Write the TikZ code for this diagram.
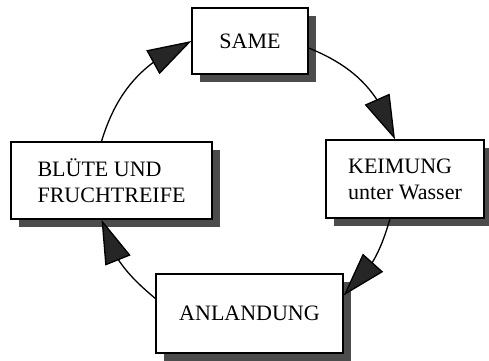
\documentclass[tikz,border=0pt]{standalone}
\usepackage{fontspec}
\setmainfont{Liberation Serif}
\usetikzlibrary{arrows.meta,bending,shadows}

\begin{document}
\begin{tikzpicture}[x=1pt,y=1pt]
	\tikzstyle{box} = [draw, line width=1.3pt, fill=white, inner sep=0pt, align=left, font=\fontsize{22}{26}\selectfont, drop shadow={shadow xshift=8pt, shadow yshift=-8pt, fill=black!70, opacity=1}]
	\tikzstyle{cycle} = [line width=1.3pt, -{Triangle[length=44pt,width=27pt,fill=black!85]}]

	\useasboundingbox (0,0) rectangle (489,360);

	\draw (250,319) node[box, minimum width=116pt, minimum height=66pt] (same) {SAME};
	\draw (405,181) node[box, minimum width=158pt, minimum height=78pt] (keim) {KEIMUNG\\unter Wasser};
	\draw (249.5,46.5) node[box, minimum width=187pt, minimum height=79pt] (anl) {ANLANDUNG};
	\draw (111.5,179.5) node[box, minimum width=201pt, minimum height=77pt] (blute) {BLÜTE UND\\FRUCHTREIFE};

	\draw[cycle] ([xshift=-10pt]blute.north) to[out=73, in=203] (same.west);
	\draw[cycle] ([yshift=-7pt]same.east) to[out=-22, in=107] ([xshift=-10pt]keim.north);
	\draw[cycle] ([xshift=-15pt]keim.south) to[out=-106, in=41] ([yshift=18pt]anl.east);
	\draw[cycle] ([yshift=15pt]anl.west) to[out=140, in=-76] ([xshift=-10pt]blute.south);
\end{tikzpicture}
\end{document}
